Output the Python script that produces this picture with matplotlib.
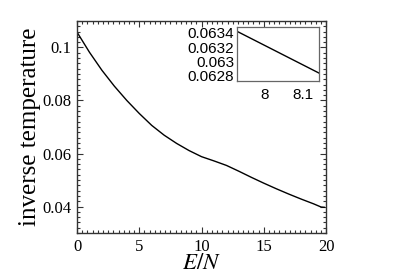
import matplotlib
matplotlib.use("Agg")
import matplotlib.pyplot as plt
from matplotlib.ticker import AutoMinorLocator, FixedLocator

# main curve: inverse temperature vs E/N
energy = [0, 1, 2, 3, 4, 5, 6, 7, 8, 9, 10, 11, 12, 13, 14, 15, 16, 17,
          18, 19, 19.6, 19.85]
beta = [0.1058, 0.0982, 0.0914, 0.0854, 0.0800, 0.0751, 0.0706, 0.0669,
        0.0638, 0.0611, 0.0588, 0.0572, 0.0555, 0.0533, 0.0510, 0.0488,
        0.0467, 0.0447, 0.0428, 0.0410, 0.0398, 0.0397]

# inset zoom
energy_in = [7.926, 8.034, 8.142]
beta_in = [0.06342, 0.06313, 0.06284]

xticks = [0, 5, 10, 15, 20]
yticks = [0.04, 0.06, 0.08, 0.1]
yticklabels = ["0.04", "0.06", "0.08", "0.1"]
xticks_in = [8, 8.1]
yticks_in = [0.0628, 0.063, 0.0632, 0.0634]
yticklabels_in = ["0.0628", "0.063", "0.0632", "0.0634"]

plt.rcParams['font.family'] = ['Liberation Serif', 'DejaVu Serif']
plt.rcParams['mathtext.fontset'] = 'stix'

fig = plt.figure(figsize=(4.09, 2.73), dpi=100)
ax = fig.add_axes([0.1883, 0.1465, 0.609, 0.7766])
ax.plot(energy, beta, color='black', lw=1.0)
ax.set_xlim(0, 20)
ax.set_ylim(0.03, 0.11)
ax.set_xticks(xticks)
ax.set_xticklabels([str(t) for t in xticks])
ax.set_yticks(yticks)
ax.set_yticklabels(yticklabels)
ax.xaxis.set_minor_locator(AutoMinorLocator(12))
ax.yaxis.set_minor_locator(AutoMinorLocator(10))
ax.tick_params(which='both', direction='in', top=True, right=True,
               labelsize=12, color='#333333', width=0.8)
ax.tick_params(which='major', length=4, pad=4)
ax.tick_params(which='minor', length=2)
for s in ax.spines.values():
    s.set_color('#333333')
    s.set_linewidth(1.0)
ax.set_xlabel('$E/N$', fontsize=16.5, labelpad=-1)
ax.set_ylabel('inverse temperature', fontsize=18, labelpad=1)

# inset
axi = fig.add_axes([0.5795, 0.7033, 0.2005, 0.1978])
axi.plot(energy_in, beta_in, color='black', lw=1.0)
axi.set_xlim(7.926, 8.142)
axi.set_ylim(0.06273, 0.06348)
axi.xaxis.set_major_locator(FixedLocator(xticks_in))
axi.set_xticklabels(["8", "8.1"])
axi.yaxis.set_major_locator(FixedLocator(yticks_in))
axi.set_yticklabels(yticklabels_in)
for lab in axi.get_xticklabels() + axi.get_yticklabels():
    lab.set_family(['Liberation Sans', 'DejaVu Sans'])
axi.tick_params(length=0, labelsize=11, pad=2)
axi.tick_params(axis='x', pad=5)
for s in axi.spines.values():
    s.set_color('#666666')
    s.set_linewidth(0.9)

fig.savefig('out.png', dpi=100)
